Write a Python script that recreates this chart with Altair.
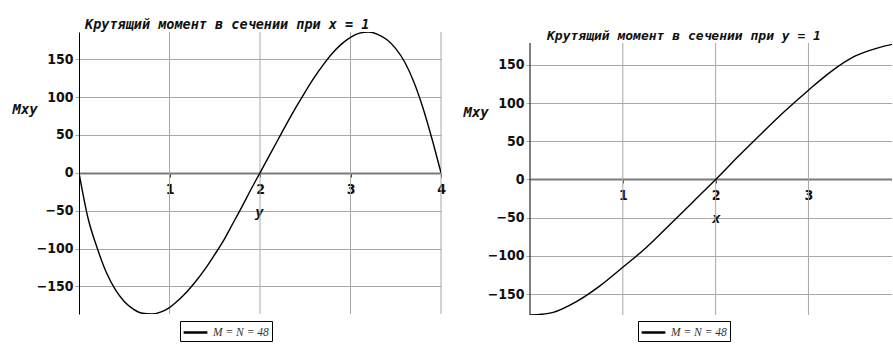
import altair as alt
import pandas as pd

# ---- Section x = 1: torsional moment Mxy along y ----
y_pos = [0.0, 0.1, 0.2, 0.3, 0.4, 0.5, 0.6, 0.7, 0.8, 0.9,
         1.0, 1.1, 1.2, 1.3, 1.4, 1.5, 1.6, 1.7, 1.8, 1.9,
         2.0, 2.1, 2.2, 2.3, 2.4, 2.5, 2.6, 2.7, 2.8, 2.9,
         3.0, 3.1, 3.2, 3.3, 3.4, 3.5, 3.6, 3.7, 3.8, 3.9, 4.0]
mxy_at_x1 = [0, -60, -99, -131, -154, -170, -180, -185.5, -186.5, -184,
             -178, -168, -156, -142, -126, -108, -89, -67, -45, -22,
             0, 22, 44, 66, 87, 107, 126, 143, 158, 170,
             179, 184.5, 186, 183, 176, 164, 146, 120, 86, 45, 0]

# ---- Section y = 1: torsional moment Mxy along x ----
x_pos = [0.0, 0.125, 0.25, 0.5, 0.75, 1.0, 1.25, 1.5, 1.75,
         2.0, 2.25, 2.5, 2.75, 3.0, 3.25, 3.5, 3.75, 4.0]
mxy_at_y1 = [-177.5, -176.5, -174, -160, -139.7, -115, -89.5, -60, -30,
             0, 31, 61, 90, 117, 142, 161.5, 172.5, 179.5]

series_name = "M = N = 48"

y_ticks = [-150, -100, -50, 0, 50, 100, 150]
left_x_ticks = [1, 2, 3, 4]
right_x_ticks = [1, 2, 3]

left_domain_x = [0, 4]
left_domain_y = [-186.5, 186]
right_domain_x = [0, 3.9]
right_domain_y = [-177.5, 193.2]
right_span = [-177.5, 178.8]

MONO = "DejaVu Sans Mono"
NUM = "DejaVu Sans Condensed, DejaVu Sans"
GRID = "#a8a8a8"
INK = "#111111"

left_df = pd.DataFrame({"y": y_pos, "Mxy": mxy_at_x1, "curve": series_name})
right_df = pd.DataFrame({"x": x_pos, "Mxy": mxy_at_y1, "curve": series_name})


def legend(dx):
    return alt.Legend(
        orient="none", legendX=dx, legendY=289, title=None,
        symbolType="M-1.7,0H1.7", symbolSize=196, symbolStrokeWidth=2.5,
        symbolStrokeColor="black", symbolOffset=4,
        labelFont="Liberation Serif", labelFontStyle="italic",
        labelFontSize=11.5, labelColor="#333333", labelOffset=9,
        strokeColor="black", fillColor="white", padding=3,
    )


def x_axis(name, offset, title_x, values):
    return alt.Axis(
        values=values, format="d", orient="bottom", offset=offset, grid=False,
        domainColor="#7a7a7a", domainWidth=2,
        tickColor="#444444", tickSize=4,
        labelFont=NUM, labelFontWeight="bold", labelFontSize=14,
        labelColor=INK, labelBaseline="alphabetic", labelPadding=16.5,
        labelFlush=False,
        title=name, titleFont=MONO, titleFontStyle="italic",
        titleFontWeight="bold", titleFontSize=14, titleColor=INK,
        titleX=title_x, titleY=43, titleAlign="center",
        titleBaseline="alphabetic",
    )


def y_axis(title_y, show_domain):
    return alt.Axis(
        values=y_ticks, format="d", grid=True, gridColor=GRID, gridWidth=1,
        domain=show_domain, domainColor="black", domainWidth=1,
        tickColor=GRID, tickSize=4, labelPadding=2,
        labelFont=NUM, labelFontWeight="bold", labelFontSize=14,
        labelColor=INK,
        title="Mxy", titleAngle=0, titleX=-67, titleY=title_y,
        titleAlign="left", titleBaseline="middle",
        titleFont=MONO, titleFontStyle="italic", titleFontWeight="bold",
        titleFontSize=14, titleColor=INK,
    )


def title(text, dx, dy, size):
    return alt.TitleParams(
        text, anchor="start", frame="group", dx=dx, dy=dy, offset=-11,
        baseline="alphabetic",
        font=MONO, fontSize=size, fontWeight="bold", fontStyle="italic",
        color=INK,
    )


# left panel: vertical grid lines + curve
left_grid = alt.Chart(pd.DataFrame({"g": left_x_ticks})).mark_rule(
    color=GRID, strokeWidth=1
).encode(
    x=alt.X("g:Q", scale=alt.Scale(domain=left_domain_x, nice=False, zero=False)),
    y=alt.datum(left_domain_y[0]),
    y2=alt.datum(left_domain_y[1]),
)

left_line = alt.Chart(left_df).mark_line(
    strokeWidth=1.4, clip=True, interpolate="monotone"
).encode(
    x=alt.X("y:Q", scale=alt.Scale(domain=left_domain_x, nice=False, zero=False),
            axis=x_axis("y", -141, 180, left_x_ticks)),
    y=alt.Y("Mxy:Q", scale=alt.Scale(domain=left_domain_y, nice=False, zero=False),
            axis=y_axis(77, True)),
    color=alt.Color("curve:N", scale=alt.Scale(range=["black"]), legend=legend(101)),
)

left = alt.layer(left_grid, left_line).properties(
    width=362, height=282,
    title=title("Крутящий момент в сечении при x = 1", 6, 0, 13.5),
)

# right panel: vertical grid lines, y-axis line, curve
right_grid = alt.Chart(pd.DataFrame({"g": right_x_ticks})).mark_rule(
    color=GRID, strokeWidth=1
).encode(
    x=alt.X("g:Q", scale=alt.Scale(domain=right_domain_x, nice=False, zero=False)),
    y=alt.datum(right_span[0]),
    y2=alt.datum(right_span[1]),
)

right_axis_line = alt.Chart(pd.DataFrame({"g": [0]})).mark_rule(
    color="black", strokeWidth=1
).encode(
    x=alt.X("g:Q", scale=alt.Scale(domain=right_domain_x, nice=False, zero=False)),
    y=alt.datum(right_span[0]),
    y2=alt.datum(right_span[1]),
)

right_line = alt.Chart(right_df).mark_line(
    strokeWidth=1.4, clip=True, interpolate="monotone"
).encode(
    x=alt.X("x:Q", scale=alt.Scale(domain=right_domain_x, nice=False, zero=False),
            axis=x_axis("x", -136, 186, right_x_ticks)),
    y=alt.Y("Mxy:Q", scale=alt.Scale(domain=right_domain_y, nice=False, zero=False),
            axis=y_axis(80, False)),
    color=alt.Color("curve:N", scale=alt.Scale(range=["black"]), legend=legend(108)),
)

right = alt.layer(right_grid, right_axis_line, right_line).properties(
    width=362, height=283,
    title=title("Крутящий момент в сечении при y = 1", 17, 10, 13),
)

chart = (
    alt.hconcat(left, right, spacing=89, bounds="flush")
    .resolve_scale(color="independent")
    .resolve_legend(color="independent")
    .properties(padding={"left": 12, "top": 18, "right": 0, "bottom": 0},
                background="white")
    .configure_view(strokeWidth=0)
)

chart.save("out.html", embed_options={"renderer": "svg", "actions": False})
